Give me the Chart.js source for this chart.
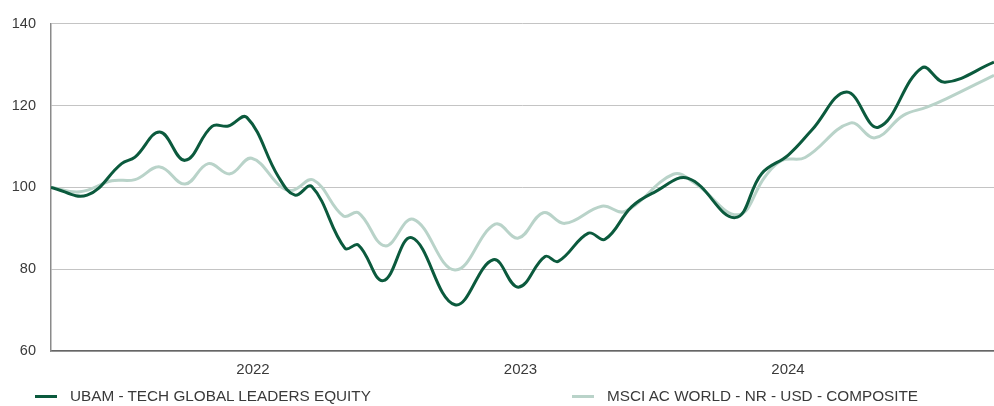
<!DOCTYPE html>
<html>
<head>
<meta charset="utf-8">
<title>Performance</title>
<script src="https://cdn.jsdelivr.net/npm/chart.js@4/dist/chart.umd.min.js"></script>
<style>
  html, body { margin: 0; padding: 0; background: #fff; }
  #wrap { position: relative; width: 994px; height: 406px; }
  #chart { display: block; }
  #legend { position: absolute; left: 0; top: 386px; width: 994px; height: 20px;
            font: 15.3px "Liberation Sans", Arial, sans-serif; color: #3a3a3a; }
  .item { position: absolute; top: 0; display: flex; align-items: center; white-space: nowrap; height: 20px; }
  .swatch { width: 22px; height: 3px; margin-right: 13px; }
</style>
</head>
<body>
<div id="wrap">
  <canvas id="chart" width="994" height="406" style="width:994px;height:406px"></canvas>
  <div id="legend"></div>
</div>
<script>
// series labels
const seriesNames = ['UBAM - TECH GLOBAL LEADERS EQUITY', 'MSCI AC WORLD - NR - USD - COMPOSITE'];

// fund (dark line) - dates as decimal years, values rebased to 100
const fundYears = [2021.245, 2021.380, 2021.509, 2021.559, 2021.652, 2021.746, 2021.847, 2021.908, 2021.977,
  2022.095, 2022.157, 2022.220, 2022.344, 2022.394, 2022.487, 2022.593, 2022.755, 2022.898, 2022.992,
  2023.092, 2023.141, 2023.254, 2023.316, 2023.416, 2023.503, 2023.627, 2023.802, 2023.902, 2024.001,
  2024.089, 2024.219, 2024.338, 2024.500, 2024.587, 2024.770];
const fundValues = [100, 98.1, 105.8, 107.4, 113.5, 106.6, 114.9, 115, 117.1,
  102.6, 98.1, 100.2, 85.1, 85.9, 77.2, 87.7, 71.3, 82.3, 75.6,
  83.1, 81.9, 88.8, 87.3, 95.3, 98.9, 102.2, 92.6, 103.4, 107.9,
  114, 123.3, 114.7, 129.2, 125.7, 130.6];

// benchmark (light line)
const benchYears = [2021.245, 2021.353, 2021.472, 2021.559, 2021.652, 2021.746, 2021.833, 2021.914, 2021.995,
  2022.107, 2022.151, 2022.226, 2022.338, 2022.394, 2022.494, 2022.599, 2022.755, 2022.905, 2022.992,
  2023.085, 2023.166, 2023.304, 2023.391, 2023.571, 2023.652, 2023.814, 2023.914, 2023.977, 2024.064,
  2024.232, 2024.325, 2024.431, 2024.519, 2024.593, 2024.770];
const benchValues = [100, 98.9, 101.6, 101.9, 105, 100.8, 105.8, 103.3, 107.1,
  100, 99.3, 101.8, 93, 93.8, 85.7, 92.2, 79.8, 91, 87.6,
  93.8, 91.2, 95.4, 94.1, 103.2, 101, 93.3, 102.6, 106.6, 107.3,
  115.7, 112.1, 117.6, 119.6, 121.7, 127.4];

const yearTicks = [2022, 2023, 2024];
const yMin = 60, yMax = 140, yStep = 20;

const colors = ['#0b5a3d', '#b9d3c9'];

Chart.defaults.font.family = '"Liberation Sans", Arial, sans-serif';
Chart.defaults.font.size = 14;
Chart.defaults.color = '#3a3a3a';

const toPoints = (xs, ys) => xs.map((x, i) => ({ x: x, y: ys[i] }));

const chart = new Chart(document.getElementById('chart'), {
  type: 'line',
  data: {
    datasets: [
      {
        label: seriesNames[0],
        data: toPoints(fundYears, fundValues),
        borderColor: colors[0],
        backgroundColor: colors[0],
        borderWidth: 3,
        pointRadius: 0,
        tension: 0.4,
        fill: false
      },
      {
        label: seriesNames[1],
        data: toPoints(benchYears, benchValues),
        borderColor: colors[1],
        backgroundColor: colors[1],
        borderWidth: 3,
        pointRadius: 0,
        tension: 0.4,
        fill: false
      }
    ]
  },
  options: {
    responsive: false,
    animation: false,
    layout: { padding: { top: 22, right: 0, bottom: 0, left: 0 } },
    plugins: {
      legend: { display: false },
      tooltip: { enabled: false }
    },
    scales: {
      x: {
        type: 'linear',
        min: fundYears[0],
        max: fundYears[fundYears.length - 1],
        afterBuildTicks: (scale) => { scale.ticks = yearTicks.map(v => ({ value: v })); },
        afterFit: (scale) => { scale.height = 55; },
        ticks: { padding: 10, font: { size: 15 }, callback: (v) => String(v), maxRotation: 0 },
        grid: { color: 'rgba(0,0,0,0)', drawTicks: false },
        border: { display: true, color: '#666', width: 1.5 }
      },
      y: {
        min: yMin,
        max: yMax,
        afterFit: (scale) => { scale.width = 51; },
        ticks: { stepSize: yStep, padding: 15, font: { size: 14.5 } },
        grid: { color: '#c4c4c4', lineWidth: 1, drawTicks: false },
        border: { display: true, color: '#8a8a8a', width: 1.5 }
      }
    }
  }
});

// html legend built from the chart's datasets
const legendLeft = [35, 572];
const legendEl = document.getElementById('legend');
chart.data.datasets.forEach((ds, i) => {
  const item = document.createElement('div');
  item.className = 'item';
  item.style.left = legendLeft[i] + 'px';
  const sw = document.createElement('span');
  sw.className = 'swatch';
  sw.style.background = ds.borderColor;
  const txt = document.createElement('span');
  txt.textContent = ds.label;
  item.appendChild(sw);
  item.appendChild(txt);
  legendEl.appendChild(item);
});
</script>
</body>
</html>
